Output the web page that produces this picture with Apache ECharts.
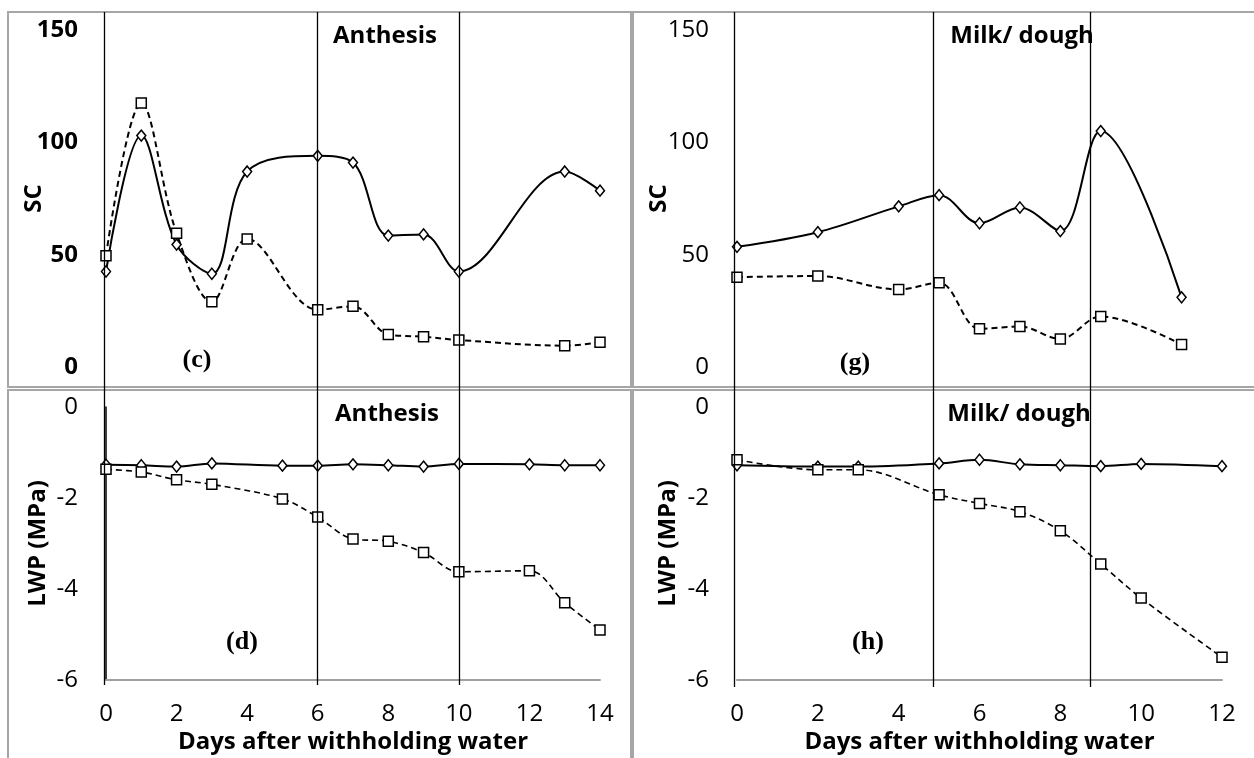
<!DOCTYPE html>
<html>
<head>
<meta charset="utf-8">
<script src="https://cdn.jsdelivr.net/npm/echarts@6/dist/echarts.min.js"></script>
<style>
  html, body { margin:0; padding:0; background:#fff; }
  #chart { width:1254px; height:758px; }
</style>
</head>
<body>
<div id="chart"></div>
<script>
// SC, anthesis (c)
const scDaysC    = [0, 1, 2, 3, 4, 6, 7, 8, 9, 10, 13, 14];
const scWellC    = [42.5, 103, 54.5, 41.5, 87, 94, 91, 58.5, 59, 42.5, 87, 78.5];
const scStressC  = [49.5, 117.5, 59.5, 29, 57, 25.5, 27, 14.5, 13.5, 12, 9.5, 11];
// SC, milk/dough (g)
const scDaysG    = [0, 2, 4, 5, 6, 7, 8, 9, 11];
const scWellG    = [53.5, 60, 71.5, 76.5, 64, 71, 60.5, 105, 31];
const scStressG  = [40, 40.5, 34.5, 37.5, 17, 18, 12.5, 22.5, 10];
// LWP, anthesis (d)
const lwpDaysD   = [0, 1, 2, 3, 5, 6, 7, 8, 9, 10, 12, 13, 14];
const lwpWellD   = [-1.27, -1.28, -1.31, -1.24, -1.29, -1.29, -1.26, -1.28, -1.31, -1.25, -1.26, -1.28, -1.28];
const lwpStressD = [-1.37, -1.43, -1.6, -1.7, -2.02, -2.42, -2.9, -2.95, -3.2, -3.62, -3.6, -4.3, -4.9];
// LWP, milk/dough (h)
const lwpDaysH   = [0, 2, 3, 5, 6, 7, 8, 9, 10, 12];
const lwpWellH   = [-1.28, -1.31, -1.31, -1.24, -1.16, -1.26, -1.28, -1.3, -1.25, -1.3];
const lwpStressH = [-1.16, -1.38, -1.38, -1.93, -2.12, -2.3, -2.72, -3.45, -4.2, -5.5];
// stage markers (days)
const stageAnthesis = [-0.06, 6, 10];
const stageMilk     = [-0.08, 4.85, 8.75];

const FONT = '"Open Sans", "Noto Sans", sans-serif';
const pairs = (xs, ys) => xs.map((x, i) => [x, ys[i]]);

function well(data, xi, yi, w){
  return { type:'line', xAxisIndex:xi, yAxisIndex:yi, data, smooth:0.35,
    symbol:'diamond', symbolSize:[9,11], showAllSymbol:true,
    lineStyle:{ color:'#000', width:w }, itemStyle:{ color:'#fff', borderColor:'#000', borderWidth:1.5 }, z:3 };
}
function stress(data, xi, yi, w){
  return { type:'line', xAxisIndex:xi, yAxisIndex:yi, data, smooth:0.35,
    symbol:'rect', symbolSize:10, showAllSymbol:true,
    lineStyle:{ color:'#000', width:w, type:[6,4] }, itemStyle:{ color:'#fff', borderColor:'#000', borderWidth:1.5 }, z:3 };
}
function stageLines(vals, xi, yi){
  return { type:'line', xAxisIndex:xi, yAxisIndex:yi, data:[], silent:true,
    markLine:{ silent:true, symbol:'none', label:{show:false},
      lineStyle:{ color:'#000', width:1.3, type:'solid' },
      data: vals.map(v => ({ xAxis:v })) } };
}
function xHidden(grid, min, max){
  return { type:'value', gridIndex:grid, min, max, show:false };
}
function xBottom(grid, max){
  return { type:'value', gridIndex:grid, min:0, max, interval:2,
    axisLine:{ show:true, onZero:false, lineStyle:{ color:'#a0a0a0', width:2 } }, axisTick:{show:false}, splitLine:{show:false},
    axisLabel:{ color:'#000', fontFamily:FONT, fontSize:24, margin:22 },
    name:'Days after withholding water', nameLocation:'middle', nameGap:50, nameMoveOverlap:false,
    nameTextStyle:{ color:'#000', fontFamily:FONT, fontSize:24, fontWeight:'bold' } };
}
function yAx(grid, min, max, step, name, gap, bold, showLine){
  return { type:'value', gridIndex:grid, min, max, interval:step,
    axisLine:{ show:showLine, onZero:false, lineStyle:{ color:'#000', width:1.5 } }, axisTick:{show:false}, splitLine:{show:false},
    axisLabel:{ color:'#000', fontFamily:FONT, fontSize:24, fontWeight: bold ? 'bold' : 'normal', margin:28 },
    name, nameLocation:'middle', nameRotate:90, nameGap:gap, nameMoveOverlap:false,
    nameTextStyle:{ color:'#000', fontFamily:FONT, fontSize:24, fontWeight:'bold' } };
}
function label(text, x, y, serif){
  return { type:'text', x, y, style:{ text, fill:'#000', align:'center', verticalAlign:'middle',
    font: serif ? 'bold 26px "Liberation Serif", "DejaVu Serif", serif' : 'bold 24px ' + FONT } };
}
function box(x, y, w, h){
  return { type:'rect', shape:{ x, y, width:w, height:h }, style:{ fill:'none', stroke:'#a6a6a6', lineWidth:2 }, silent:true };
}

const chart = echarts.init(document.getElementById('chart'));
chart.setOption({
  animation:false,
  grid:[
    { left:106, top:30,  width:494, height:337 },
    { left:737, top:30,  width:485, height:337 },
    { left:106, top:407, width:494, height:273 },
    { left:737, top:407, width:485, height:273 },
    { left:88.36, top:12, width:511.64, height:673 },
    { left:716.8, top:12, width:505.2,  height:675 }
  ],
  xAxis:[ xHidden(0,0,14), xHidden(1,0,12), xBottom(2,14), xBottom(3,12), xHidden(4,-0.5,14), xHidden(5,-0.5,12) ],
  yAxis:[
    yAx(0, 0, 150, 50, 'SC', 60, true, false),
    yAx(1, 0, 150, 50, 'SC', 66, false, false),
    yAx(2, -6, 0, 2, 'LWP (MPa)', 56, false, true),
    yAx(3, -6, 0, 2, 'LWP (MPa)', 57, false, false),
    { type:'value', gridIndex:4, min:0, max:1, show:false },
    { type:'value', gridIndex:5, min:0, max:1, show:false }
  ],
  graphic:[
    box(8, 12, 623, 375), box(633, 12, 640, 375),
    box(8, 390, 623, 380), box(633, 390, 640, 380),
    label('Anthesis', 385, 36), label('Milk/ dough', 1022, 36),
    label('Anthesis', 387, 414), label('Milk/ dough', 1019, 414),
    label('(c)', 197, 360, true), label('(g)', 855, 363, true),
    label('(d)', 242, 642, true), label('(h)', 868, 642, true)
  ],
  series:[
    stageLines(stageAnthesis, 4, 4),
    stageLines(stageMilk, 5, 5),
    well(pairs(scDaysC, scWellC), 0, 0, 2),
    stress(pairs(scDaysC, scStressC), 0, 0, 2),
    well(pairs(scDaysG, scWellG), 1, 1, 2),
    stress(pairs(scDaysG, scStressG), 1, 1, 2),
    well(pairs(lwpDaysD, lwpWellD), 2, 2, 2),
    stress(pairs(lwpDaysD, lwpStressD), 2, 2, 1.6),
    well(pairs(lwpDaysH, lwpWellH), 3, 3, 2),
    stress(pairs(lwpDaysH, lwpStressH), 3, 3, 1.6)
  ]
});
</script>
</body>
</html>
